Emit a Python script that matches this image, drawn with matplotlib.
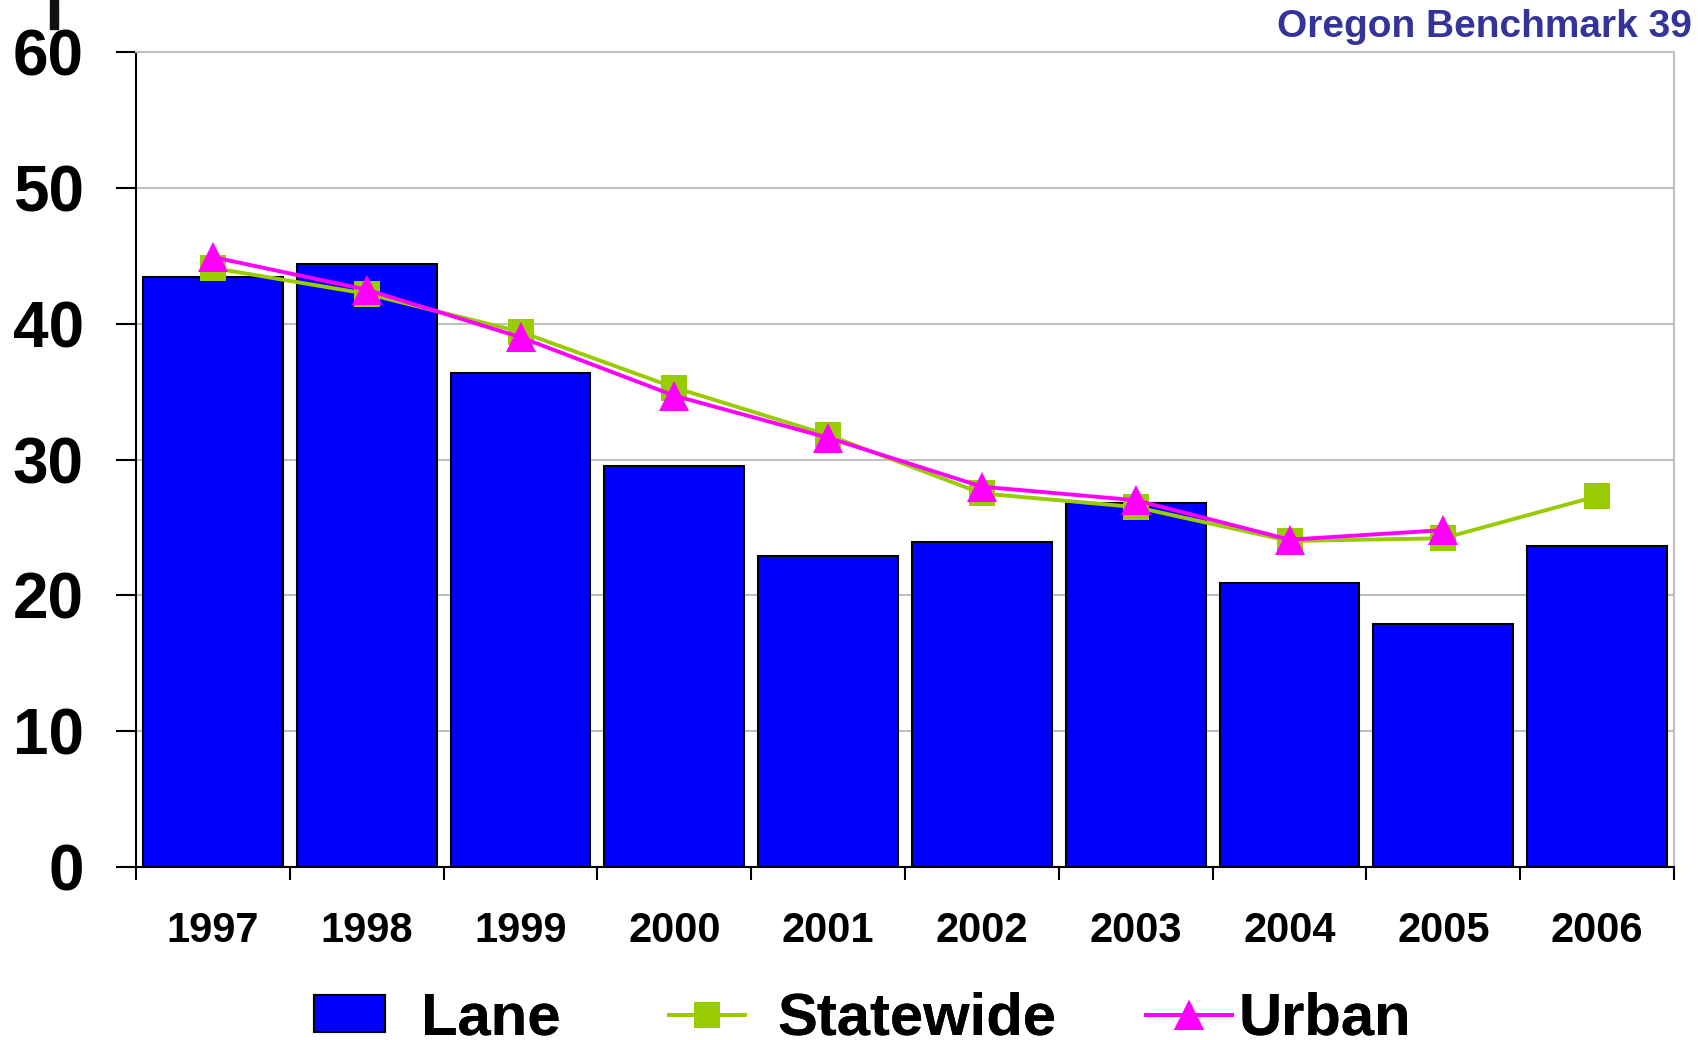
import numpy as np
import matplotlib
matplotlib.use("Agg")
import matplotlib.pyplot as plt
from matplotlib.patches import Rectangle, Patch
from matplotlib.lines import Line2D

# data
years = ["1997", "1998", "1999", "2000", "2001", "2002", "2003", "2004", "2005", "2006"]
lane = [43.4, 44.4, 36.4, 29.5, 22.9, 23.9, 26.8, 20.9, 17.9, 23.6]
statewide = [44.1, 42.2, 39.4, 35.3, 31.8, 27.5, 26.5, 24.0, 24.2, 27.3]
urban = [44.9, 42.5, 39.0, 34.7, 31.6, 28.0, 27.0, 24.1, 24.8]
yticks = [0, 10, 20, 30, 40, 50, 60]

BLUE = "#0000FF"
GREEN = "#99CC00"
MAGENTA = "#FF00FF"
TITLE_COLOR = "#333399"

plt.rcParams["font.family"] = ["Liberation Sans", "DejaVu Sans"]
plt.rcParams["font.weight"] = "bold"

fig = plt.figure(figsize=(16.98, 10.40), dpi=100)
ax = fig.add_axes([136 / 1698, 1 - 867 / 1040, (1674 - 136) / 1698, (867 - 52) / 1040])

x = np.arange(len(years))
ax.bar(x, lane, width=0.91, color=BLUE, edgecolor="black", linewidth=1.5, zorder=2)
ax.plot(np.arange(len(statewide)), statewide, color=GREEN, lw=2.8, marker="s",
        markersize=19, markeredgewidth=0, zorder=3)
ax.plot(np.arange(len(urban)), urban, color=MAGENTA, lw=2.8, marker="^",
        markersize=21, markeredgewidth=0, zorder=4)

ax.set_xlim(-0.5, len(years) - 0.5)
ax.set_ylim(0, 60)
ax.set_yticks(yticks)
ax.set_yticklabels([str(v) for v in yticks], fontsize=46, fontweight="bold")
ax.yaxis.grid(True, color="#C0C0C0", linewidth=1.5, zorder=0)
ax.set_axisbelow(True)

# boundaries as major ticks, labels on minor ticks at the centres
ax.set_xticks(np.arange(-0.5, len(years), 1.0))
ax.set_xticklabels([])
ax.set_xticks(x, minor=True)
ax.set_xticklabels(years, minor=True, fontsize=30, fontweight="bold")
ax.tick_params(axis="x", which="major", length=9.5, width=1.5, direction="out")
ax.tick_params(axis="x", which="minor", length=0, pad=32)
ax.tick_params(axis="y", length=14.5, width=1.5, direction="out", pad=23)

for s in ["top", "right"]:
    ax.spines[s].set_color("#C0C0C0")
    ax.spines[s].set_linewidth(1.5)
for s in ["left", "bottom"]:
    ax.spines[s].set_color("black")
    ax.spines[s].set_linewidth(1.5)

fig.text(1692 / 1698, 1 - 27 / 1040, "Oregon Benchmark 39", ha="right", va="center",
         fontsize=28, fontweight="bold", color=TITLE_COLOR)

# small dark mark at the top left of the original
fig.patches.append(Rectangle((50 / 1698, 1 - 29 / 1040), 8 / 1698, 29 / 1040,
                             transform=fig.transFigure, color="#111111"))

# legend, one entry per box so the spacing follows the picture
entries = [
    (Patch(facecolor=BLUE, edgecolor="black", linewidth=1.5), "Lane", 314, 1.19, 0.6),
    (Line2D([], [], color=GREEN, lw=2.8, marker="s", markersize=19, markeredgewidth=0),
     "Statewide", 669, 1.27, 0.55),
    (Line2D([], [], color=MAGENTA, lw=2.8, marker="^", markersize=21, markeredgewidth=0),
     "Urban", 1146, 1.44, 0.1),
]
for handle, label, xpix, hlen, tpad in entries:
    leg = fig.legend([handle], [label], loc="center left",
                     bbox_to_anchor=(xpix / 1698, 1 - 1019 / 1040),
                     frameon=False, borderpad=0, borderaxespad=0,
                     handlelength=hlen, handletextpad=tpad, handleheight=0.59,
                     prop={"weight": "bold", "size": 43})
    fig.add_artist(leg)

fig.savefig("out.png", dpi=100)
